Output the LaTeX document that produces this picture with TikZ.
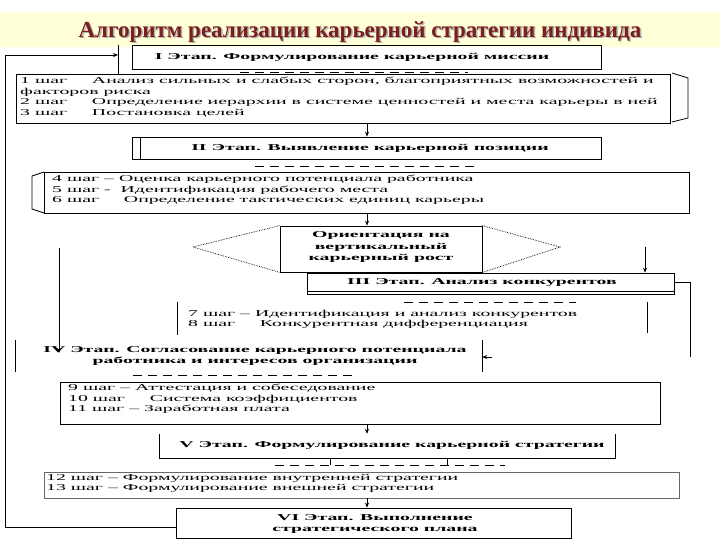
\documentclass[tikz,border=0pt]{standalone}
\usepackage{fontspec}
\setmainfont{Liberation Serif}
\usetikzlibrary{arrows.meta}
\definecolor{titlered}{HTML}{7A1E1E}
\definecolor{band}{HTML}{FFFFD8}
\newcommand{\sx}[1]{\scalebox{2.2}[1]{#1}}
\tikzset{
  box/.style={draw, line width=0.8pt, inner sep=0pt},
  stagetxt/.style={font=\fontsize{9}{11}\selectfont\bfseries, align=center, inner sep=0pt},
  steptxt/.style={font=\fontsize{9}{10.5}\selectfont, align=left, anchor=north west, inner sep=0pt},
  arr/.style={-{Stealth[length=5pt,width=4pt]}, line width=0.7pt},
  ln/.style={line width=0.8pt},
  dsh/.style={line width=1pt, dash pattern=on 9pt off 6pt},
}
\begin{document}
\begin{tikzpicture}[x=1pt,y=-1pt]
\useasboundingbox (0,0) rectangle (720,540);
\fill[white] (0,0) rectangle (720,540);
\fill[band] (0,12) rectangle (720,47);
\node[font=\fontsize{23}{26}\selectfont\bfseries, text=gray!60, inner sep=0pt] (titlesh) at (361.5,33.5) {Алгоритм реализации карьерной стратегии индивида};
\node[font=\fontsize{23}{26}\selectfont\bfseries, text=titlered, inner sep=0pt] (title) at (360,32) {Алгоритм реализации карьерной стратегии индивида};

% Stage I
\node[box, minimum width=469pt, minimum height=24pt] (st1) at (366.5,57) {};
\node[stagetxt] (st1t) at (352,57) {\sx{I Этап. Формулирование карьерной миссии}};
\coordinate (bar1t) at (118,45);
\coordinate (bar1b) at (118,75);
\draw[ln] (bar1t) -- (bar1b);
\coordinate (fbtop) at (5,55);
\coordinate (fbbot) at (5,527);
\draw[arr] (fbtop) -- (bar1t |- fbtop);
\draw[dsh] (240,73) -- (468,73);

% steps 1-3
\node[box, minimum width=654pt, minimum height=49pt] (sa) at (343,98.5) {};
\node[steptxt] (sat) at (20,77) {\sx{1 шаг \quad Анализ сильных и слабых сторон, благоприятных возможностей и}\\
\sx{факторов риска}\\
\sx{2 шаг \quad Определение иерархии в системе ценностей и места карьеры в ней}\\
\sx{3 шаг \quad Постановка целей}};
\draw[ln] (672,73) -- (688,78) -- (688,118) -- (672,122);

\coordinate (ax) at (367,0);
% Stage II
\node[box, minimum width=469pt, minimum height=22pt] (st2) at (366.5,148) {};
\draw[ln] (140,137) -- (140,159);
\node[stagetxt] (st2t) at (370,148) {\sx{II Этап. Выявление карьерной позиции}};
\draw[arr] (sa.south -| ax) -- (st2.north -| ax);
\draw[dsh] (255,167) -- (478,167);

% steps 4-6
\node[box, minimum width=645pt, minimum height=41pt] (sb) at (367,192.5) {};
\draw[ln] (44,172) -- (32,176) -- (32,209) -- (44,213);
\node[steptxt] (sbt) at (52,175) {\sx{4 шаг -- Оценка карьерного потенциала работника}\\
\sx{5 шаг -\enspace Идентификация рабочего места}\\
\sx{6 шаг \quad Определение тактических единиц карьеры}};

% orientation
\node[box, minimum width=202pt, minimum height=46pt] (ori) at (381,249) {};
\node[stagetxt, font=\fontsize{9}{11.5}\selectfont\bfseries] (orit) at (381,247) {\sx{Ориентация на}\\\sx{вертикальный}\\\sx{карьерный рост}};
\draw[densely dotted, line width=0.7pt] (ori.north west) -- (193,247) -- (ori.south west);
\draw[densely dotted, line width=0.7pt] (ori.north east) -- (560,247) -- (ori.south east);
\draw[arr] (sb.south -| ax) -- (ori.north -| ax);

% left long arrow
\coordinate (la1) at (59,248);
\coordinate (la2) at (59,353);
\draw[arr] (la1) -- (la2);

% Stage III
\node[box, minimum width=367pt, minimum height=21pt] (st3) at (490.5,283.5) {};
\draw[ln] (307,291) -- (674,291);
\node[stagetxt] (st3t) at (482,282) {\sx{III Этап. Анализ конкурентов}};
\coordinate (ra1) at (645,247);
\draw[arr] (ra1) -- (ra1 |- st3.north);
\coordinate (rc1) at (690,282);
\coordinate (rc2) at (690,357);
\draw[ln] (st3.east |- rc1) -- (rc1) -- (rc2);
\draw[dsh] (404,302) -- (576,302);

% steps 7-8
\draw[ln] (177,302) -- (177,335);
\draw[ln] (647,302) -- (647,333);
\node[steptxt] (sct) at (188,310) {\sx{7 шаг -- Идентификация и анализ конкурентов}\\
\sx{8 шаг \quad Конкурентная дифференциация}};

% Stage IV
\node[minimum width=466pt, minimum height=32pt, inner sep=0pt] (st4) at (249,356) {};
\draw[ln] (st4.north west) -- (st4.south west);
\draw[ln] (st4.north east) -- (st4.south east);
\node[stagetxt] (st4t) at (255,356) {\sx{IV Этап. Согласование карьерного потенциала}\\\sx{работника и интересов организации}};
\coordinate (sa4) at (492,357);
\draw[arr] (sa4) -- (st4.east |- sa4);
\draw[dsh] (133,375) -- (353,375);

% steps 9-11
\node[box, minimum width=600pt, minimum height=42pt] (sd) at (360,403) {};
\node[steptxt] (sdt) at (68,384) {\sx{9 шаг -- Аттестация и собеседование}\\
\sx{10 шаг \quad Система коэффициентов}\\
\sx{11 шаг -- Заработная плата}};

% Stage V
\node[minimum width=455pt, minimum height=24pt, inner sep=0pt] (st5) at (387.5,446) {};
\draw[ln] (st5.north west) -- (st5.south west) -- (st5.south east) -- (st5.north east);
\node[stagetxt] (st5t) at (392,445) {\sx{V Этап. Формулирование карьерной стратегии}};
\draw[arr] (sd.south -| ax) -- (st5.north -| ax);
\draw[dsh] (275,465) -- (505,465);
\draw[ln] (330,458) -- (330,465);
\draw[ln] (447,458) -- (447,465);

% steps 12-13
\node[box, minimum width=635pt, minimum height=26pt, draw=black!60] (se) at (361.5,485) {};
\node[steptxt] (set) at (46,474) {\sx{12 шаг -- Формулирование внутренней стратегии}\\
\sx{13 шаг -- Формулирование внешней стратегии}};

% Stage VI
\node[box, minimum width=395pt, minimum height=30pt] (st6) at (373.5,523) {};
\node[stagetxt] (st6t) at (375,524) {\sx{VI Этап. Выполнение}\\\sx{стратегического плана}};
\draw[arr] (se.south -| ax) -- (st6.north -| ax);

% feedback
\draw[ln] (fbtop) -- (fbbot) -- (st6.west |- fbbot);
\end{tikzpicture}
\end{document}
